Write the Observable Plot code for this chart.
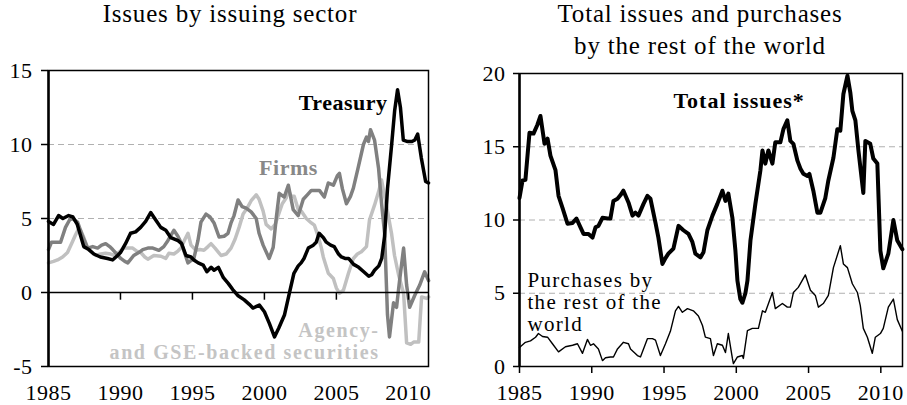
<!DOCTYPE html>
<html><head><meta charset="utf-8">
<script src="https://cdn.jsdelivr.net/npm/d3@7"></script>
<script src="https://cdn.jsdelivr.net/npm/@observablehq/plot@0.6"></script>
<style>
html,body{margin:0;padding:0;background:#fff}
body{width:907px;height:405px;overflow:hidden;position:relative;font-family:"Liberation Serif",serif}
.title{position:absolute;z-index:2;font-family:"Liberation Serif",serif;font-size:25px;letter-spacing:0.8px;text-align:center;color:#000;line-height:32px;white-space:nowrap}
#left{position:absolute;left:0;top:0}
#right{position:absolute;left:460px;top:0}
svg text{font-family:"Liberation Serif",serif}
</style></head><body>
<div class="title" style="left:30px;width:400px;top:-2px">Issues by issuing sector</div>
<div class="title" style="left:500px;width:400px;top:-2px">Total issues and purchases<br>by the rest of the world</div>
<div id="left"></div>
<div id="right"></div>
<script>
// ---- data (percent) ----
const xTicks = [1985, 1990, 1995, 2000, 2005, 2010];
const yTicksLeft = [-5, 0, 5, 10, 15];
const yTicksRight = [0, 5, 10, 15, 20];

const treasury = [[1985.0,4.8],[1985.35,4.6],[1985.7,5.2],[1986.0,5.0],[1986.4,5.2],[1986.7,5.1],[1987.0,4.6],[1987.45,3.1],[1987.8,2.9],[1988.15,2.6],[1988.6,2.4],[1989.1,2.3],[1989.45,2.2],[1989.8,2.5],[1990.0,2.7],[1990.35,3.3],[1990.7,4.0],[1991.05,4.1],[1991.4,4.4],[1991.75,4.8],[1992.1,5.4],[1992.45,4.9],[1992.8,4.4],[1993.15,4.2],[1993.5,3.7],[1994.0,3.5],[1994.25,3.3],[1994.55,2.5],[1994.9,2.4],[1995.1,2.2],[1995.4,2.0],[1995.75,1.85],[1996.0,1.4],[1996.3,1.7],[1996.5,1.5],[1996.8,1.7],[1997.15,1.0],[1997.5,0.6],[1997.8,0.2],[1998.15,-0.2],[1998.6,-0.5],[1998.95,-0.8],[1999.2,-1.05],[1999.65,-0.85],[2000.0,-1.3],[2000.35,-2.1],[2000.7,-3.0],[2001.0,-2.4],[2001.4,-1.5],[2001.7,-0.2],[2002.05,1.3],[2002.35,1.8],[2002.55,2.0],[2002.75,2.3],[2003.05,3.0],[2003.4,3.2],[2003.6,3.4],[2003.8,4.0],[2004.1,3.7],[2004.3,3.4],[2004.6,3.2],[2004.85,3.1],[2005.15,2.6],[2005.35,2.4],[2005.6,2.3],[2005.85,2.3],[2006.2,1.9],[2006.55,1.7],[2006.9,1.4],[2007.25,1.1],[2007.45,1.2],[2007.65,1.5],[2007.95,1.8],[2008.15,2.3],[2008.35,3.8],[2008.55,7.0],[2008.85,10.1],[2009.05,12.3],[2009.25,13.7],[2009.45,12.5],[2009.65,10.3],[2009.95,10.2],[2010.25,10.2],[2010.45,10.3],[2010.65,10.7],[2010.9,9.1],[2011.2,7.5],[2011.4,7.4]];

const firms = [[1985.0,2.9],[1985.21,3.4],[1985.56,3.4],[1985.84,3.4],[1986.18,4.4],[1986.46,4.9],[1986.67,5.0],[1987.02,4.75],[1987.37,3.8],[1987.72,3.0],[1988.07,3.1],[1988.41,3.0],[1988.69,3.2],[1988.97,3.3],[1989.25,3.1],[1989.46,2.9],[1989.74,2.6],[1990.02,2.3],[1990.3,2.1],[1990.51,2.0],[1990.92,2.5],[1991.27,2.7],[1991.55,2.9],[1991.9,3.0],[1992.25,3.0],[1992.67,2.85],[1993.01,3.1],[1993.29,3.5],[1993.71,4.2],[1993.99,3.8],[1994.2,3.4],[1994.48,2.6],[1994.69,2.0],[1995.1,2.3],[1995.38,3.5],[1995.59,4.75],[1995.94,5.3],[1996.22,5.1],[1996.5,4.7],[1996.85,3.75],[1997.2,3.8],[1997.47,4.0],[1997.68,4.7],[1997.89,5.2],[1998.17,6.25],[1998.45,5.8],[1998.73,5.7],[1999.08,5.45],[1999.43,5.0],[1999.63,4.0],[1999.91,3.2],[2000.33,2.3],[2000.61,3.05],[2000.82,5.0],[2001.03,6.7],[2001.38,6.45],[2001.66,7.25],[2002.0,5.6],[2002.35,5.2],[2002.7,6.3],[2002.98,6.6],[2003.26,6.9],[2003.54,6.9],[2003.82,6.9],[2004.16,6.45],[2004.44,7.4],[2004.79,7.25],[2005.07,7.9],[2005.21,8.05],[2005.42,7.0],[2005.7,6.0],[2005.98,6.5],[2006.18,7.05],[2006.53,8.5],[2006.88,10.0],[2007.09,10.5],[2007.23,10.2],[2007.37,11.0],[2007.65,10.3],[2007.93,8.4],[2008.14,6.0],[2008.35,4.0],[2008.55,-1.5],[2008.69,-3.0],[2008.97,-0.7],[2009.18,-1.0],[2009.39,0.8],[2009.67,3.0],[2009.88,0.5],[2010.09,-1.0],[2010.44,-0.2],[2010.79,0.5],[2011.13,1.4],[2011.41,0.8]];

const agency = [[1985.0,2.0],[1985.35,2.1],[1985.63,2.2],[1985.98,2.4],[1986.32,2.7],[1986.6,3.3],[1986.88,3.9],[1987.09,4.3],[1987.23,4.2],[1987.44,3.75],[1987.72,3.0],[1987.93,2.8],[1988.28,2.5],[1988.62,2.6],[1988.97,2.65],[1989.32,2.6],[1989.6,2.5],[1989.81,2.65],[1990.23,3.0],[1990.58,3.0],[1990.85,3.0],[1991.13,2.8],[1991.41,2.7],[1991.69,2.4],[1991.9,2.25],[1992.32,2.5],[1992.81,2.45],[1993.15,2.3],[1993.36,2.65],[1993.71,2.6],[1993.99,2.8],[1994.2,3.0],[1994.48,3.6],[1994.69,4.0],[1994.9,3.2],[1995.24,2.85],[1995.52,2.9],[1995.8,2.85],[1996.08,3.1],[1996.29,3.3],[1996.57,3.0],[1996.99,2.5],[1997.34,2.6],[1997.68,3.0],[1997.96,3.6],[1998.24,4.4],[1998.52,5.3],[1998.8,5.7],[1999.08,6.2],[1999.43,6.6],[1999.63,6.3],[1999.91,5.5],[2000.12,4.6],[2000.47,4.3],[2000.75,4.6],[2000.96,5.2],[2001.24,6.0],[2001.52,6.4],[2001.66,6.9],[2001.86,6.5],[2002.07,6.5],[2002.35,5.6],[2002.56,5.5],[2002.91,5.0],[2003.26,4.7],[2003.47,4.55],[2003.75,3.75],[2003.96,3.0],[2004.09,2.4],[2004.44,1.3],[2004.79,0.95],[2005.0,0.3],[2005.21,-0.05],[2005.49,0.15],[2005.84,1.3],[2006.18,2.3],[2006.46,2.6],[2006.74,2.75],[2007.09,3.1],[2007.3,4.9],[2007.65,5.9],[2007.93,6.8],[2008.14,7.6],[2008.35,6.5],[2008.55,5.5],[2008.83,4.0],[2009.04,2.5],[2009.32,1.2],[2009.67,-0.05],[2009.88,-3.4],[2010.16,-3.5],[2010.37,-3.35],[2010.72,-3.35],[2010.92,-0.3],[2011.27,-0.4],[2011.41,-0.3]];

const totalIssues = [[1985.0,11.5],[1985.21,12.7],[1985.41,12.75],[1985.69,15.95],[1985.97,15.9],[1986.24,16.5],[1986.45,17.1],[1986.73,15.2],[1986.94,15.55],[1987.14,14.4],[1987.49,13.4],[1987.7,11.65],[1987.97,10.85],[1988.32,9.75],[1988.67,9.8],[1988.94,10.1],[1989.22,9.5],[1989.43,9.05],[1989.77,9.05],[1990.05,8.8],[1990.26,9.5],[1990.46,9.6],[1990.74,10.15],[1991.09,10.1],[1991.29,10.1],[1991.5,11.3],[1991.78,11.45],[1991.99,11.7],[1992.19,12.0],[1992.54,11.2],[1992.82,10.3],[1993.02,10.5],[1993.23,10.3],[1993.58,11.1],[1993.85,11.65],[1994.06,11.45],[1994.41,9.8],[1994.61,8.8],[1994.89,7.0],[1995.1,7.4],[1995.3,7.7],[1995.65,8.05],[1996.0,9.6],[1996.34,9.3],[1996.69,9.05],[1996.96,8.5],[1997.17,7.7],[1997.52,7.45],[1997.73,7.8],[1998.0,9.3],[1998.35,10.3],[1998.69,11.1],[1999.04,12.0],[1999.25,11.3],[1999.45,11.8],[1999.73,10.15],[1999.94,7.9],[2000.08,5.85],[2000.28,4.6],[2000.42,4.35],[2000.63,5.0],[2000.77,5.85],[2000.98,8.6],[2001.32,11.1],[2001.67,13.4],[2001.81,14.75],[2002.01,13.85],[2002.22,14.75],[2002.5,13.85],[2002.7,15.3],[2003.05,15.3],[2003.26,16.2],[2003.53,16.8],[2003.74,15.4],[2003.95,15.2],[2004.23,14.05],[2004.44,13.5],[2004.64,13.15],[2004.92,13.0],[2005.06,13.15],[2005.33,12.0],[2005.61,10.5],[2005.82,10.5],[2006.16,11.5],[2006.37,12.7],[2006.72,14.25],[2006.99,16.2],[2007.2,16.1],[2007.41,18.6],[2007.69,19.85],[2007.89,18.7],[2008.03,17.45],[2008.24,16.8],[2008.45,14.75],[2008.79,11.85],[2008.93,15.4],[2009.27,15.2],[2009.48,14.2],[2009.76,13.85],[2009.97,7.9],[2010.17,6.7],[2010.52,7.7],[2010.87,10.0],[2011.14,8.6],[2011.49,8.0]];

const purchasesRow = [[1985.0,1.3],[1985.41,1.65],[1985.76,1.75],[1986.11,2.0],[1986.31,2.25],[1986.59,2.05],[1986.94,2.0],[1987.28,1.55],[1987.7,1.0],[1988.18,1.35],[1988.67,1.45],[1989.01,1.55],[1989.36,0.9],[1989.7,1.85],[1989.91,1.45],[1990.12,1.55],[1990.46,1.2],[1990.74,0.4],[1990.95,0.6],[1991.29,0.65],[1991.5,0.65],[1991.78,1.2],[1992.19,1.65],[1992.54,1.55],[1992.68,1.2],[1993.16,0.75],[1993.37,0.65],[1993.85,1.9],[1994.2,1.9],[1994.41,1.8],[1994.75,0.75],[1995.1,1.55],[1995.44,2.4],[1995.79,3.8],[1996.0,4.1],[1996.27,3.7],[1996.62,3.95],[1997.03,3.8],[1997.38,3.45],[1997.66,2.8],[1997.86,2.0],[1998.21,1.9],[1998.42,0.75],[1998.69,1.55],[1999.04,1.45],[1999.25,0.95],[1999.45,2.25],[1999.73,0.55],[1999.8,0.2],[2000.08,0.65],[2000.42,0.75],[2000.49,0.55],[2000.77,2.45],[2001.11,2.6],[2001.53,2.6],[2001.81,3.8],[2002.01,3.7],[2002.5,5.05],[2002.7,3.95],[2003.19,4.3],[2003.53,4.05],[2003.74,4.05],[2003.95,5.05],[2004.29,5.4],[2004.78,6.25],[2005.13,5.2],[2005.47,4.85],[2005.68,4.05],[2006.02,4.3],[2006.37,4.85],[2006.72,6.75],[2007.2,8.25],[2007.41,7.0],[2007.69,6.75],[2008.03,5.65],[2008.38,5.05],[2008.58,4.15],[2008.79,2.6],[2009.07,2.0],[2009.41,0.9],[2009.62,2.0],[2009.97,2.25],[2010.17,2.6],[2010.52,4.05],[2010.87,4.6],[2011.14,3.2],[2011.49,2.4]];

const seriesLabels = ["Treasury", "Firms", "Agency-\nand GSE-backed securities", "Total issues*", "Purchases by\nthe rest of the\nworld"];

// ---- styles ----
const FONT = "'Liberation Serif', serif";
const fmt = d => String(d);

const leftPlot = Plot.plot({
  width: 440, height: 405,
  marginLeft: 48, marginRight: 12, marginTop: 70, marginBottom: 39,
  style: {fontSize: "22px", background: "transparent", color: "#000"},
  x: {domain: [1985, 2011.4]},
  y: {domain: [-5, 15]},
  marks: [
    Plot.gridY([5, 10], {stroke: "#b0b0b0", strokeOpacity: 1, strokeWidth: 1, strokeDasharray: "6,4"}),
    Plot.line(agency, {stroke: "#c0c0c0", strokeWidth: 3.5, strokeLinejoin: "round"}),
    Plot.line(firms, {stroke: "#808080", strokeWidth: 3.5, strokeLinejoin: "round"}),
    Plot.line(treasury, {stroke: "#000", strokeWidth: 3.5, strokeLinejoin: "round"}),
    Plot.frame({stroke: "#000", strokeWidth: 1.5}),
    Plot.ruleY([0], {stroke: "#000", strokeWidth: 1.5}),
    Plot.ruleX(xTicks, {y1: 0, y2: -0.52, stroke: "#000", strokeWidth: 1.5}),
    Plot.ruleX([1985], {stroke: "#000", strokeWidth: 2.5}),
    Plot.axisY(yTicksLeft, {tickSize: 7, tickPadding: 9, tickFormat: fmt, label: null, fontSize: 22, fontFamily: FONT, strokeWidth: 1.5}),
    Plot.axisX(xTicks, {tickSize: 0, tickPadding: 18, tickFormat: fmt, label: null, fontSize: 22, fontFamily: FONT}),
    Plot.text([seriesLabels[0]], {x: 2008.55, y: 12.8, text: d => d, textAnchor: "end", fontWeight: "bold", fontSize: 22, fontFamily: FONT, fill: "#000"}),
    Plot.text([seriesLabels[1]], {x: 1999.63, y: 8.4, text: d => d, textAnchor: "start", fontWeight: "bold", fontSize: 22, fontFamily: FONT, fill: "#888"}),
    Plot.text([seriesLabels[2]], {x: 2008.0, y: -3.3, text: d => d, textAnchor: "end", lineAnchor: "middle", lineHeight: 1.1, fontWeight: "bold", fontSize: 20, fontFamily: FONT, fill: "#c4c4c4"})
  ]
});

const rightPlot = Plot.plot({
  width: 447, height: 405,
  marginLeft: 59, marginRight: 5, marginTop: 73, marginBottom: 39,
  style: {fontSize: "22px", background: "transparent", color: "#000"},
  x: {domain: [1985, 2011.5]},
  y: {domain: [0, 20]},
  marks: [
    Plot.gridY([5, 10, 15], {stroke: "#b0b0b0", strokeOpacity: 1, strokeWidth: 1, strokeDasharray: "6,4"}),
    Plot.line(purchasesRow, {stroke: "#000", strokeWidth: 1.4, strokeLinejoin: "round"}),
    Plot.line(totalIssues, {stroke: "#000", strokeWidth: 4, strokeLinejoin: "round"}),
    Plot.frame({stroke: "#000", strokeWidth: 1.5}),
    Plot.ruleX([1985], {stroke: "#000", strokeWidth: 2.5}),
    Plot.axisY(yTicksRight, {tickSize: 6, tickPadding: 8, tickFormat: fmt, label: null, fontSize: 22, fontFamily: FONT, strokeWidth: 1.5}),
    Plot.axisX(xTicks, {tickSize: 7, tickPadding: 11, tickFormat: fmt, label: null, fontSize: 22, fontFamily: FONT, strokeWidth: 1.5}),
    Plot.text([seriesLabels[3]], {x: 1995.65, y: 18.14, text: d => d, textAnchor: "start", fontWeight: "bold", fontSize: 22, fontFamily: FONT, fill: "#000"}),
    Plot.text([seriesLabels[4]], {x: 1985.55, y: 6.5, text: d => d, textAnchor: "start", lineAnchor: "top", lineHeight: 1.05, fontSize: 21, fontFamily: FONT, fill: "#000"})
  ]
});

document.getElementById("left").appendChild(leftPlot);
document.getElementById("right").appendChild(rightPlot);
for (const svg of [leftPlot, rightPlot]) {
  svg.style.fontFamily = "'Liberation Serif', serif";
  svg.style.letterSpacing = "0.5px";
  svg.style.overflow = "visible";
}
// widen the annotation labels a little to match the wider original typeface
const spacing = [["GSE-backed", "1.6px"], ["Total issues", "1.0px"], ["Purchases by", "1.3px"]];
for (const svg of [leftPlot, rightPlot]) {
  d3.select(svg).selectAll("text").each(function () {
    for (const [key, ls] of spacing) {
      if (this.textContent.includes(key)) this.style.letterSpacing = ls;
    }
  });
}
</script>
</body></html>
